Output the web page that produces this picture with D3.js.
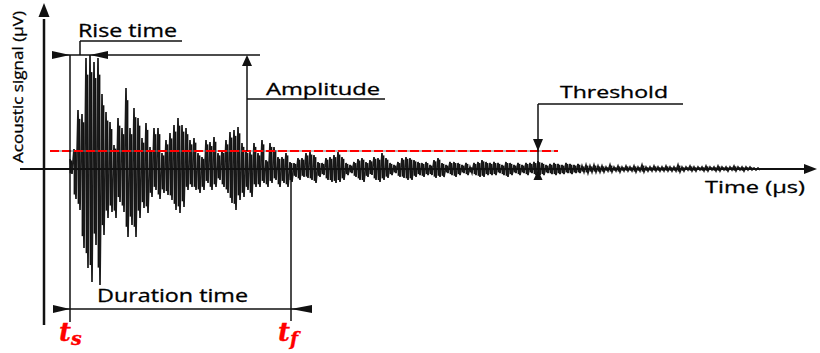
<!DOCTYPE html>
<html>
<head>
<meta charset="utf-8">
<script src="https://cdn.jsdelivr.net/npm/d3@7"></script>
<style>
  body { margin: 0; background: #fff; }
  text { font-family: "Open Sans", "Noto Sans", sans-serif; fill: #000; stroke: #000; stroke-width: 0.3; }
</style>
</head>
<body>
<div id="chart"></div>
<script>
// signal envelope, one value every 4 µs starting at tStart (µV)
const tStart = 50, tStep = 4;
const sigTop = [10, 20, 59, 55, 111, 114, 107, 111, 75, 57, 47, 24, 51, 41, 81, 41, 61, 51, 31, 46,
  22, 41, 41, 16, 29, 36, 44, 51, 44, 41, 29, 31, 16, 12, 29, 27, 32, 16, 19, 29,
  37, 39, 42, 26, 19, 17, 26, 16, 29, 9, 26, 22, 12, 12, 16, 7, 6, 11, 11, 16,
  17, 14, 7, 6, 11, 12, 14, 17, 12, 6, 4, 7, 10, 11, 7, 9, 12, 11, 16, 11,
  6, 4, 7, 11, 12, 11, 9, 7, 6, 7, 4, 9, 11, 6, 4, 7, 7, 6, 4, 6,
  2, 6, 7, 9, 7, 6, 7, 6, 4, 7, 6, 4, 6, 4, 6, 6, 7, 8, 6, 4,
  5, 6, 5, 4, 6, 5, 4, 5, 3, 4, 3, 4, 3, 3, 2, 4, 2, 3, 2, 3,
  2, 3, 2, 4, 2, 2, 3, 2, 2, 3, 2, 2, 4, 2, 2, 3, 2, 2, 2, 3,
  2, 2, 3, 2, 2, 2, 3, 2, 2, 2, 2, 1, 1];
const sigBot = [5, 30, 41, 79, 99, 113, 76, 116, 66, 49, 43, 49, 33, 43, 68, 56, 68, 49, 39, 44,
  28, 21, 30, 24, 26, 31, 41, 44, 38, 21, 18, 21, 24, 21, 14, 21, 18, 11, 18, 24,
  34, 41, 31, 28, 21, 28, 18, 18, 14, 18, 14, 11, 18, 14, 18, 13, 8, 11, 8, 9,
  11, 14, 8, 6, 11, 13, 14, 13, 11, 6, 4, 8, 11, 13, 8, 6, 11, 13, 11, 9,
  6, 4, 8, 9, 11, 11, 8, 6, 8, 6, 6, 9, 8, 8, 4, 6, 8, 6, 4, 6,
  4, 6, 8, 8, 6, 6, 6, 4, 6, 8, 6, 4, 6, 4, 6, 4, 6, 6, 6, 4,
  5, 6, 5, 5, 4, 5, 4, 4, 3, 4, 3, 3, 3, 3, 2, 3, 2, 3, 2, 2,
  2, 3, 2, 3, 2, 2, 2, 2, 2, 2, 2, 2, 3, 2, 1, 2, 2, 1, 2, 2,
  1, 2, 2, 1, 2, 1, 2, 1, 2, 1, 1, 1, 1];

// key instants (µs) and levels (µV)
const tS = 50, tF = 271, tPeak = 70, tAmp = 227, tCross = 518;
const peakLevel = 114, thresholdLevel = 18;
const labels = { rise: "Rise time", amp: "Amplitude", thr: "Threshold",
  dur: "Duration time", xTitle: "Time (\u03bcs)", yTitle: "Acoustic signal (\u03bcV)" };

const width = 820, height = 353;
const svg = d3.select('#chart').append('svg')
    .attr('width', width)
    .attr('height', height);

const x = d3.scaleLinear().domain([0, 797]).range([20, 817]);
const y = d3.scaleLinear().domain([-160, 160]).range([329, 9]);

function tri(tipX, tipY, dir, len, half) {
    let p;
    if (dir === 'up') p = [[tipX, tipY], [tipX - half, tipY + len], [tipX + half, tipY + len]];
    if (dir === 'down') p = [[tipX, tipY], [tipX - half, tipY - len], [tipX + half, tipY - len]];
    if (dir === 'left') p = [[tipX, tipY], [tipX + len, tipY - half], [tipX + len, tipY + half]];
    if (dir === 'right') p = [[tipX, tipY], [tipX - len, tipY - half], [tipX - len, tipY + half]];
    return p.map(d => d.join(',')).join(' ');
}
function line(x1, y1, x2, y2, w) {
    svg.append('line')
        .attr('x1', x1).attr('y1', y1).attr('x2', x2).attr('y2', y2)
        .attr('stroke', '#111').attr('stroke-width', w || 1.5);
}
function head(tipX, tipY, dir, len, half) {
    svg.append('polygon').attr('points', tri(tipX, tipY, dir, len, half)).attr('fill', '#111');
}

// waveform: min/max bars per sample plus the oscillation trace
const env = sigTop.map((v, i) => ({ t: tStart + i * tStep, hi: v, lo: -sigBot[i] }));
svg.append('g').selectAll('line')
    .data(env)
    .enter()
    .append('line')
    .attr('x1', d => x(d.t + 1)).attr('x2', d => x(d.t + 1))
    .attr('y1', d => y(d.hi * 0.85)).attr('y2', d => y(d.lo * 0.85))
    .attr('stroke', '#111')
    .attr('stroke-width', 2.8);

const pts = [];
env.forEach(d => {
    pts.push([d.t, d.hi]);
    pts.push([d.t + tStep / 2, d.lo]);
});
svg.append('path')
    .datum(pts)
    .attr('fill', 'none')
    .attr('stroke', '#1a1a1a')
    .attr('stroke-width', 1.7)
    .attr('d', d3.line().x(d => x(d[0])).y(d => y(d[1])));

// axes
line(x(0), y(0), x(785), y(0), 2);
head(x(797), y(0), 'right', 13, 5);
line(x(24), y(-156), x(24), y(150), 2.5);
head(x(24), y(166), 'up', 14, 5.5);

// threshold line
svg.append('line')
    .attr('x1', x(30)).attr('x2', x(538))
    .attr('y1', y(thresholdLevel)).attr('y2', y(thresholdLevel))
    .attr('stroke', '#777').attr('stroke-width', 1.2);
svg.append('line')
    .attr('x1', x(30)).attr('x2', x(538))
    .attr('y1', y(thresholdLevel)).attr('y2', y(thresholdLevel))
    .attr('stroke', '#ff0000').attr('stroke-width', 2.2)
    .attr('stroke-dasharray', '9,3');

// ts / tf markers and duration
line(x(tS), y(peakLevel), x(tS), y(-153));
line(x(tF), y(0), x(tF), y(-152));
line(x(tS) - 17, y(-140), x(tF) + 21, y(-140));
head(x(tS), y(-140), 'right', 17, 4);
head(x(tF), y(-140), 'left', 21, 4);
svg.append('text').attr('x', (x(tS) + x(tF)) / 2 - 8).attr('y', y(-133))
    .attr('text-anchor', 'middle').attr('font-size', 18)
    .attr('textLength', 151).attr('lengthAdjust', 'spacingAndGlyphs')
    .text(labels.dur);

// rise time
line(x(tS) - 18, y(peakLevel), x(240), y(peakLevel));
head(x(tS), y(peakLevel), 'right', 18, 4);
head(x(tPeak), y(peakLevel), 'left', 18, 4);
line(x(60), y(peakLevel), x(60), y(128));
line(x(60), y(128), x(162), y(128));
svg.append('text').attr('x', x(58)).attr('y', y(132))
    .attr('font-size', 18)
    .attr('textLength', 99).attr('lengthAdjust', 'spacingAndGlyphs')
    .text(labels.rise);

// amplitude
line(x(tAmp), y(thresholdLevel), x(tAmp), y(peakLevel) + 10);
head(x(tAmp), y(peakLevel), 'up', 11, 5);
line(x(tAmp), y(70), x(365), y(70));
svg.append('text').attr('x', x(246)).attr('y', y(74))
    .attr('font-size', 16)
    .attr('textLength', 114).attr('lengthAdjust', 'spacingAndGlyphs')
    .text(labels.amp);

// threshold callout
line(x(tCross), y(65), x(663), y(65));
line(x(tCross), y(65), x(tCross), y(-10));
head(x(tCross), y(thresholdLevel), 'down', 12, 5);
head(x(tCross), y(-1), 'up', 10, 4.5);
svg.append('text').attr('x', x(540)).attr('y', y(71))
    .attr('font-size', 16)
    .attr('textLength', 108).attr('lengthAdjust', 'spacingAndGlyphs')
    .text(labels.thr);

// axis titles
svg.append('text').attr('x', x(685)).attr('y', y(-24))
    .attr('font-size', 17)
    .attr('textLength', 100).attr('lengthAdjust', 'spacingAndGlyphs')
    .text(labels.xTitle);
svg.append('text')
    .attr('transform', 'translate(23,' + y(82) + ') rotate(-90)')
    .attr('text-anchor', 'middle').attr('font-size', 15)
    .attr('textLength', 152).attr('lengthAdjust', 'spacingAndGlyphs')
    .text(labels.yTitle);

// ts, tf symbols
function tSym(t, sub, dx) {
    const tx = svg.append('text').attr('x', x(t) + dx).attr('y', y(-172))
        .style('fill', '#ff0000').style('stroke', '#ff0000')
        .style('font-family', '"DejaVu Serif", serif')
        .style('font-weight', 'bold').style('font-style', 'italic')
        .attr('font-size', 26);
    tx.append('tspan').text('t');
    tx.append('tspan').attr('font-size', 19).attr('dy', 4).text(sub);
}
tSym(tS, 's', -11);
tSym(tF, 'f', -13);
</script>
</body>
</html>
